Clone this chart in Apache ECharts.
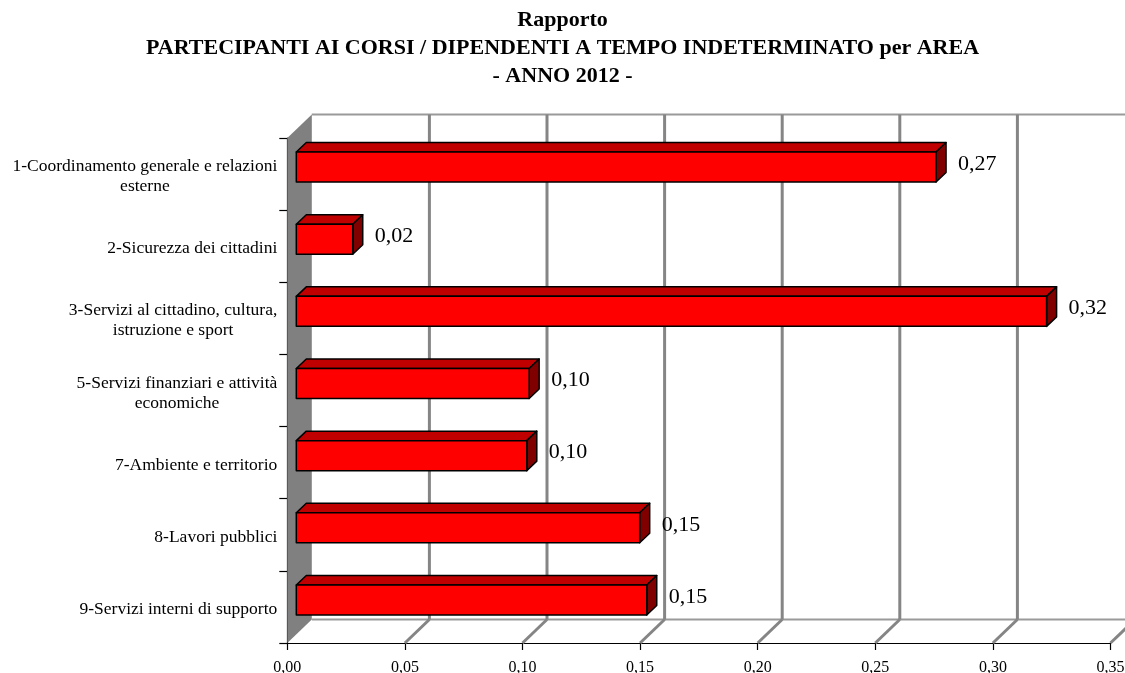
<!DOCTYPE html>
<html>
<head>
<meta charset="utf-8">
<script src="https://cdn.jsdelivr.net/npm/echarts@6/dist/echarts.min.js"></script>
<style>html,body{margin:0;padding:0;background:#fff;}#c{width:1125px;height:673px;}</style>
</head>
<body>
<div id="c"></div>
<script>
const titleLines = ['Rapporto', 'PARTECIPANTI AI CORSI / DIPENDENTI A TEMPO INDETERMINATO per AREA', '- ANNO 2012 -'];
const categories = [
  '1-Coordinamento generale e relazioni\nesterne',
  '2-Sicurezza dei cittadini',
  '3-Servizi al cittadino, cultura,\nistruzione e sport',
  '5-Servizi finanziari e attività\neconomiche',
  '7-Ambiente e territorio',
  '8-Lavori pubblici',
  '9-Servizi interni di supporto'
];
const values = [0.272, 0.024, 0.319, 0.099, 0.098, 0.146, 0.149];
const xTicks = [0, 0.05, 0.10, 0.15, 0.20, 0.25, 0.30, 0.35];

const FONT = '"Liberation Serif", "Times New Roman", serif';
const DX = 24.5, DY = -23.5;      // depth of the 3D box
const BDX = 9, BDY = -7;          // bar offset from front plane
const BTH = 30;                   // bar front thickness
const BDEP = 10;                  // bar depth
const fmt = v => v.toFixed(2).replace('.', ',');

const chart = echarts.init(document.getElementById('c'), null, {renderer: 'canvas'});

function renderFrame(params, api) {
  const cs = params.coordSys;
  const top = cs.y, bottom = cs.y + cs.height;
  const x0 = api.coord([xTicks[0], 0])[0];
  const x1 = api.coord([xTicks[xTicks.length - 1], 0])[0];
  const gray = '#858585';
  const children = [];
  children.push({type: 'polygon', shape: {points: [[x0, top], [x0 + DX, top + DY], [x0 + DX, bottom + DY], [x0, bottom]]},
    style: {fill: '#808080', stroke: null}});
  children.push({type: 'line', shape: {x1: x0 + DX, y1: top + DY, x2: x1 + DX, y2: top + DY}, style: {stroke: '#9a9a9a', lineWidth: 2}});
  children.push({type: 'line', shape: {x1: x0 + DX, y1: bottom + DY, x2: x1 + DX, y2: bottom + DY}, style: {stroke: '#9a9a9a', lineWidth: 2}});
  xTicks.forEach(v => {
    if (v === 0) return;
    const x = api.coord([v, 0])[0];
    children.push({type: 'line', shape: {x1: x + DX, y1: top + DY, x2: x + DX, y2: bottom + DY}, style: {stroke: gray, lineWidth: 3}});
    children.push({type: 'line', shape: {x1: x, y1: bottom, x2: x + DX, y2: bottom + DY}, style: {stroke: gray, lineWidth: 3}});
  });
  return {type: 'group', children};
}

function renderBar(params, api) {
  const val = api.value(0), cat = api.value(1);
  const s = api.coord([0, cat]);
  const e = api.coord([val, cat]);
  const xa = s[0] + BDX, xb = e[0] + BDX;
  const yc = s[1] + BDY;
  const yt = yc - BTH / 2, yb = yc + BTH / 2;
  const st = {stroke: '#000', lineWidth: 1.5, lineJoin: 'round'};
  return {type: 'group', children: [
    {type: 'polygon', shape: {points: [[xa, yt], [xa + BDEP, yt - BDEP * 0.95], [xb + BDEP, yt - BDEP * 0.95], [xb, yt]]},
      style: Object.assign({fill: '#C00000'}, st)},
    {type: 'polygon', shape: {points: [[xb, yt], [xb + BDEP, yt - BDEP * 0.95], [xb + BDEP, yb - BDEP * 0.95], [xb, yb]]},
      style: Object.assign({fill: '#800000'}, st)},
    {type: 'rect', shape: {x: xa, y: yt, width: xb - xa, height: BTH},
      style: Object.assign({fill: '#FF0000'}, st)},
    {type: 'text', x: xb + BDEP + 12, y: yc - 3,
      style: {text: fmt(val), font: '22px ' + FONT, fill: '#000', verticalAlign: 'middle', align: 'left'}}
  ]};
}

const option = {
  backgroundColor: '#fff',
  animation: false,
  title: titleLines.map((t, i) => ({
    text: t, left: 'center', top: 9 + i * 28, padding: 0,
    textStyle: {fontFamily: FONT, fontWeight: 'bold', fontSize: 22, color: '#000'}
  })),
  grid: {left: 287.3, right: 14.5, top: 138, bottom: 30, containLabel: false, outerBoundsMode: 'none'},
  xAxis: {
    type: 'value', min: 0, max: 0.35, interval: 0.05,
    axisLine: {show: true, lineStyle: {color: '#000', width: 1.2}},
    axisTick: {show: true, length: 7, lineStyle: {color: '#000', width: 1.2}},
    axisLabel: {formatter: v => fmt(v), fontFamily: FONT, fontSize: 16, color: '#000', margin: 17},
    splitLine: {show: false}
  },
  yAxis: {
    type: 'category', data: categories, inverse: true,
    axisLine: {show: true, lineStyle: {color: '#000', width: 1.2}},
    axisTick: {show: true, length: 8, alignWithLabel: false, lineStyle: {color: '#000', width: 1.2}},
    axisLabel: {
      margin: 10, color: '#000', padding: [5, 0, 0, 0],
      formatter: v => v.split('\n').map(l => '{c|' + l + '}').join('\n'),
      rich: {c: {align: 'center', fontFamily: FONT, fontSize: 17.5, lineHeight: 20, color: '#000'}}
    },
    splitLine: {show: false}
  },
  series: [
    {type: 'custom', renderItem: renderFrame, data: [[0, 0]], z: 1, silent: true, clip: false},
    {type: 'custom', renderItem: renderBar, encode: {x: 0, y: 1},
      data: values.map((v, i) => [v, i]), z: 3, silent: true, clip: false}
  ]
};
chart.setOption(option);
</script>
</body>
</html>
